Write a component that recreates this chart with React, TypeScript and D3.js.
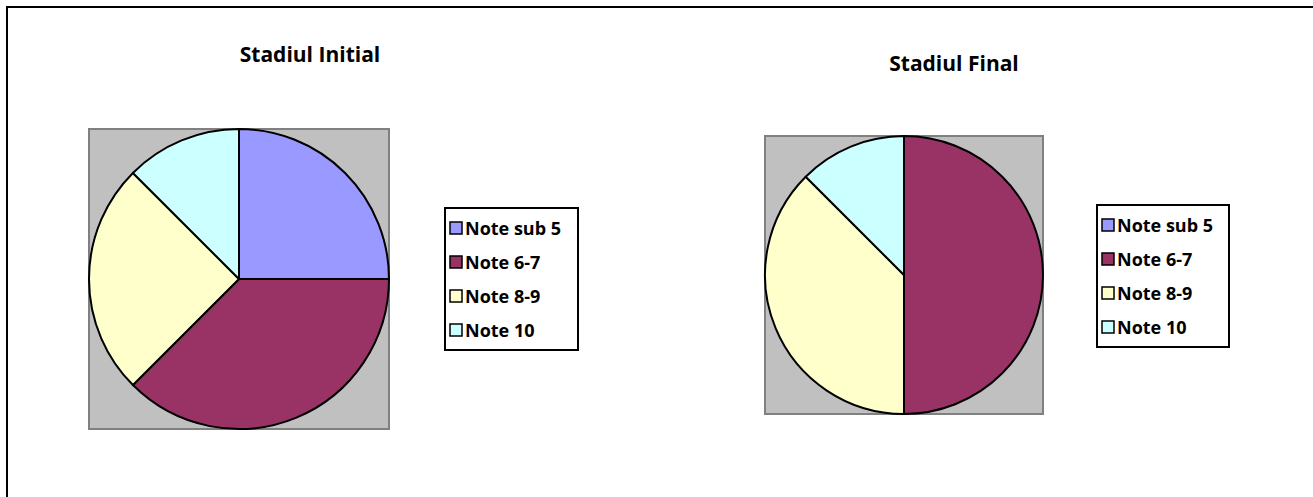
import * as d3 from 'd3';

// Categories and values
const categories = ['Note sub 5', 'Note 6-7', 'Note 8-9', 'Note 10'];
const initialValues = [2, 3, 2, 1];
const finalValues = [0, 4, 3, 1];
const colors = ['#9999FF', '#993366', '#FFFFCC', '#CCFFFF'];

const W = 1313;
const H = 497;
const FONT = '"Open Sans", Lato, sans-serif';

interface PanelProps {
  title: string;
  titleX: number;
  titleY: number;
  values: number[];
  box: { x: number; y: number; size: number };
  legend: { x: number; y: number; w: number; h: number };
}

function PiePanel({ title, titleX, titleY, values, box, legend }: PanelProps) {
  const data = categories.map((c, i) => ({ name: c, value: values[i], color: colors[i] }));
  const pie = d3.pie<typeof data[0]>().sort(null).value(d => d.value);
  const r = box.size / 2;
  const arc = d3.arc<d3.PieArcDatum<typeof data[0]>>().innerRadius(0).outerRadius(r);
  const slices = pie(data).filter(s => s.value > 0);

  // legend rows
  const rowScale = d3.scaleBand<string>()
    .domain(categories)
    .range([legend.y + 3, legend.y + legend.h - 3])
    .paddingInner(0);
  const sw = 12;

  return (
    <g style={{ fontVariantLigatures: 'none' }}>
      <text x={titleX} y={titleY} textAnchor="middle" fontFamily={FONT} fontWeight="bold" fontSize={21} fill="#000">
        {title}
      </text>
      <rect x={box.x} y={box.y} width={box.size} height={box.size} fill="#C0C0C0" stroke="#808080" strokeWidth={2} />
      <g transform={`translate(${box.x + r},${box.y + r})`}>
        {slices.map((s, i) => (
          <path key={i} d={arc(s) || ''} fill={s.data.color} stroke="#000" strokeWidth={2} strokeLinejoin="round" />
        ))}
      </g>
      <rect x={legend.x} y={legend.y} width={legend.w} height={legend.h} fill="#fff" stroke="#000" strokeWidth={2} />
      {categories.map((c, i) => {
        const cy = (rowScale(c) || 0) + rowScale.bandwidth() / 2;
        return (
          <g key={c}>
            <rect x={legend.x + 5} y={cy - sw / 2} width={sw} height={sw} fill={colors[i]} stroke="#000" strokeWidth={1.5} />
            <text x={legend.x + 20} y={cy} dominantBaseline="central" fontFamily={FONT} fontWeight="bold" fontSize={18} fill="#000">
              {c}
            </text>
          </g>
        );
      })}
    </g>
  );
}

export default function App() {
  return (
    <svg width={W} height={H} style={{ position: 'absolute', left: 0, top: 0, background: '#fff' }}>
      <rect x={0} y={0} width={W} height={H} fill="#fff" />
      <rect x={7} y={7} width={W + 20} height={H + 20} fill="none" stroke="#000" strokeWidth={2} />
      <PiePanel
        title="Stadiul Initial"
        titleX={310}
        titleY={62}
        values={initialValues}
        box={{ x: 89, y: 129, size: 300 }}
        legend={{ x: 445, y: 208, w: 133, h: 142 }}
      />
      <PiePanel
        title="Stadiul Final"
        titleX={954}
        titleY={71}
        values={finalValues}
        box={{ x: 765, y: 136, size: 278 }}
        legend={{ x: 1097, y: 205, w: 132, h: 142 }}
      />
    </svg>
  );
}
